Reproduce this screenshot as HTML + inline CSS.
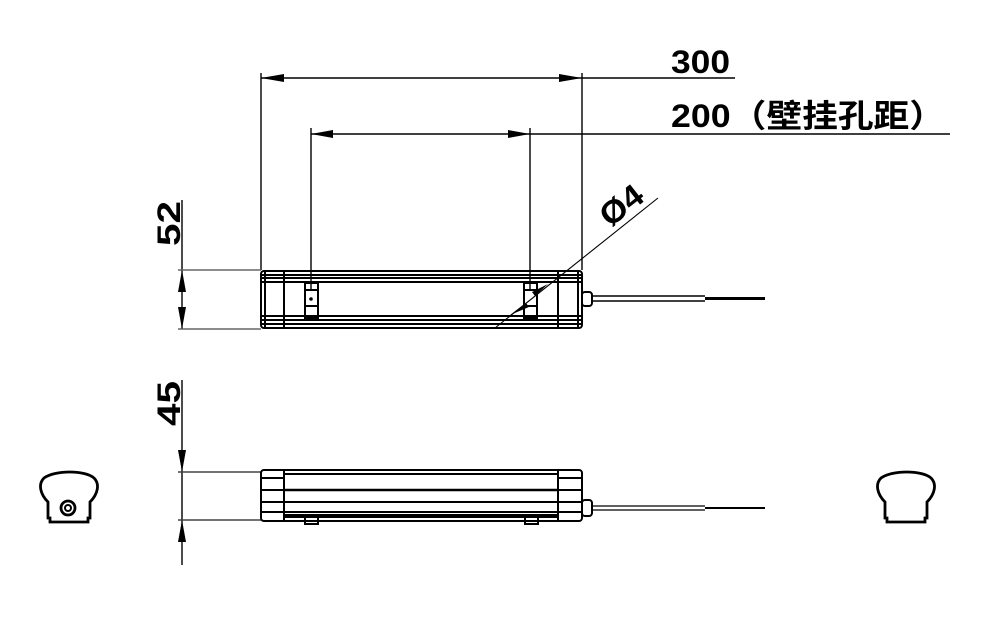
<!DOCTYPE html>
<html><head><meta charset="utf-8"><style>
html,body{margin:0;padding:0;background:#fff;}
svg{display:block;}
text{font-family:"Liberation Sans","Noto Sans CJK SC",sans-serif;fill:#000;}
</style></head><body>
<svg width="983" height="635" viewBox="0 0 983 635" xmlns="http://www.w3.org/2000/svg">
<g stroke="#000" fill="none" stroke-width="1.4">
<line x1="261" y1="73" x2="261" y2="270"/>
<line x1="582" y1="73" x2="582" y2="270"/>
<line x1="261" y1="78" x2="735" y2="78"/>
<line x1="311" y1="128" x2="311" y2="290"/>
<line x1="530" y1="128" x2="530" y2="290"/>
<line x1="311" y1="134" x2="950" y2="134"/>
<line x1="182" y1="200" x2="182" y2="329"/>
<line x1="178" y1="270" x2="261" y2="270" stroke="#666"/>
<line x1="178" y1="329" x2="261" y2="329" stroke="#666"/>
<line x1="182" y1="380" x2="182" y2="565"/>
<line x1="178" y1="472" x2="261" y2="472" stroke="#444"/>
<line x1="178" y1="520" x2="261" y2="520" stroke="#444"/>
<line x1="658" y1="198" x2="495" y2="328" stroke-width="1.1"/>
</g>
<g fill="#000">
<polygon points="261,78 284,74 284,82"/>
<polygon points="582,78 559,74 559,82"/>
<polygon points="311,134 333,130 333,138"/>
<polygon points="530,134 508,130 508,138"/>
<polygon points="182,270 178,292 186,292"/>
<polygon points="182,329 178,307 186,307"/>
<polygon points="182,472 178,450 186,450"/>
<polygon points="182,520 178,542 186,542"/>
<polygon points="548,284 532,292 535,296"/>
<polygon points="510,315 526,303 529,307"/>
</g>
<text x="671" y="73" font-size="32" font-weight="bold" textLength="59" lengthAdjust="spacingAndGlyphs">300</text>
<text x="671" y="127" font-size="32" font-weight="bold" textLength="274" lengthAdjust="spacingAndGlyphs">200（壁挂孔距）</text>
<text transform="translate(180,246) rotate(-90)" font-size="32" font-weight="bold" textLength="45" lengthAdjust="spacingAndGlyphs">52</text>
<text transform="translate(180,426) rotate(-90)" font-size="32" font-weight="bold" textLength="45" lengthAdjust="spacingAndGlyphs">45</text>
<text transform="translate(610,228) rotate(-38)" font-size="32" font-weight="bold" textLength="46" lengthAdjust="spacingAndGlyphs">Ø4</text>

<g stroke="#000" fill="none" stroke-width="2">
<rect x="261" y="271" width="321" height="57" rx="3"/>
<line x1="284" y1="271" x2="284" y2="328"/>
<line x1="558" y1="271" x2="558" y2="328"/>
<line x1="265" y1="271" x2="265" y2="328"/>
<line x1="578" y1="271" x2="578" y2="328"/>
<line x1="261" y1="275" x2="582" y2="275"/>
<line x1="261" y1="278" x2="582" y2="278"/>
<line x1="261" y1="282" x2="582" y2="282"/>
<line x1="261" y1="316" x2="582" y2="316"/>
<line x1="261" y1="320" x2="582" y2="320"/>
<line x1="261" y1="324" x2="582" y2="324"/>
<rect x="305" y="283" width="13" height="35"/>
<line x1="305" y1="290" x2="318" y2="290"/>
<line x1="305" y1="306" x2="318" y2="306"/>
<rect x="524" y="283" width="13" height="35"/>
<line x1="524" y1="290" x2="537" y2="290"/>
<line x1="524" y1="306" x2="537" y2="306"/>
<rect x="582" y="292" width="10" height="14" rx="3"/>
<line x1="592" y1="296" x2="705" y2="296" stroke-width="1.4"/>
<line x1="592" y1="301" x2="705" y2="301" stroke-width="1.4"/>
<line x1="705" y1="298.5" x2="765" y2="298.5" stroke-width="3"/>
</g>
<circle cx="311" cy="299" r="1.8" fill="#000"/>

<g stroke="#000" fill="none" stroke-width="2">
<rect x="261" y="470" width="321" height="51" rx="3"/>
<line x1="284" y1="470" x2="284" y2="521"/>
<line x1="558" y1="470" x2="558" y2="521"/>
<line x1="261" y1="478" x2="284" y2="478"/>
<line x1="558" y1="478" x2="582" y2="478"/>
<line x1="261" y1="490" x2="284" y2="490"/>
<line x1="558" y1="490" x2="582" y2="490"/>
<line x1="261" y1="502" x2="284" y2="502"/>
<line x1="558" y1="502" x2="582" y2="502"/>
<line x1="261" y1="512" x2="284" y2="512"/>
<line x1="558" y1="512" x2="582" y2="512"/>
<line x1="284" y1="474" x2="558" y2="474"/>
<line x1="284" y1="490" x2="558" y2="490" stroke-width="2.5"/>
<line x1="284" y1="502" x2="558" y2="502"/>
<line x1="284" y1="512" x2="558" y2="512"/>
<line x1="284" y1="516" x2="558" y2="516" stroke-width="4"/>
<rect x="305" y="516" width="13" height="8"/>
<rect x="525" y="516" width="13" height="8"/>
<rect x="582" y="500" width="10" height="16" rx="3"/>
<line x1="592" y1="506" x2="705" y2="506" stroke-width="1.3"/>
<line x1="592" y1="510" x2="705" y2="510" stroke-width="1.3"/>
<line x1="705" y1="508" x2="765" y2="508" stroke-width="2"/>
</g>

<g stroke="#000" fill="none" stroke-width="2.8">
<path d="M48,502 C40,494 38,484 44,478 C55,470 85,470 94,478 C100,484 98,494 90,502 L90,518 L88,518 L88,522 L50,522 L50,518 L48,518 Z"/>
<circle cx="68" cy="508" r="7"/>
<circle cx="68" cy="508" r="3" stroke-width="2"/>
<path d="M885,502 C877,494 875,484 881,478 C892,470 922,470 931,478 C937,484 935,494 927,502 L927,518 L925,518 L925,522 L887,522 L887,518 L885,518 Z"/>
</g>
</svg>
</body></html>
